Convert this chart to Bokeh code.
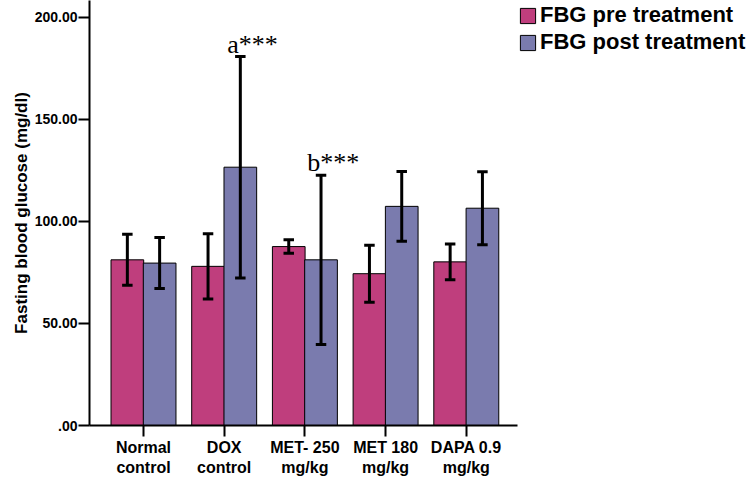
from bokeh.plotting import figure
from bokeh.models import ColumnDataSource, FixedTicker, Legend, LegendItem, Range1d
from bokeh.core.properties import value
from bokeh.embed import file_html
from bokeh.resources import INLINE

# ---- data ----
categories = ["Normal\ncontrol", "DOX\ncontrol", "MET- 250\nmg/kg", "MET 180\nmg/kg", "DAPA 0.9\nmg/kg"]
pre_mean = [81.2, 78.0, 87.7, 74.4, 80.2]
pre_sd = [12.5, 16.0, 3.3, 14.0, 8.8]
post_mean = [79.6, 126.6, 81.2, 107.4, 106.5]
post_sd = [12.5, 54.3, 41.5, 17.1, 17.9]
series_names = ["FBG pre treatment", "FBG post treatment"]
annotations = ["", "a***", "b***", "", ""]
y_ticks = [0, 50, 100, 150, 200]
y_tick_labels = [".00", "50.00", "100.00", "150.00", "200.00"]

PINK = "#BF3E7D"
BLUE = "#7A7BAE"
FONT = "Liberation Sans"

pos = list(range(1, len(categories) + 1))
off = 0.2
bw = 0.405
cap = 0.065

pre_x = [p_ - off for p_ in pos]
post_x = [p_ + off for p_ in pos]

pre_src = ColumnDataSource(dict(
    x=pre_x, top=pre_mean,
    lo=[m - s for m, s in zip(pre_mean, pre_sd)],
    hi=[m + s for m, s in zip(pre_mean, pre_sd)],
    x0=[x - cap for x in pre_x], x1=[x + cap for x in pre_x]))
post_src = ColumnDataSource(dict(
    x=post_x, top=post_mean,
    lo=[m - s for m, s in zip(post_mean, post_sd)],
    hi=[m + s for m, s in zip(post_mean, post_sd)],
    x0=[x - cap for x in post_x], x1=[x + cap for x in post_x]))

W, H = 749, 478
BL = 89
X0, XAX_END = 0.331, 5.632
px_per_x = 80.7
Y_TOP = 208.3
p = figure(width=W, height=H, output_backend="svg", toolbar_location=None,
           x_range=Range1d(X0, X0 + (W - BL) / px_per_x), y_range=Range1d(0, Y_TOP),
           min_border_left=BL, min_border_right=0, min_border_top=0, min_border_bottom=0)
p.outline_line_color = None
p.grid.visible = False
p.background_fill_color = "white"

r_pre = p.vbar(x="x", top="top", width=bw, source=pre_src, fill_color=PINK,
               line_color="black", line_width=1)
r_post = p.vbar(x="x", top="top", width=bw, source=post_src, fill_color=BLUE,
                line_color="black", line_width=1)

for src in (pre_src, post_src):
    p.segment(x0="x", y0="lo", x1="x", y1="hi", source=src, line_color="black", line_width=3)
    p.segment(x0="x0", y0="hi", x1="x1", y1="hi", source=src, line_color="black", line_width=3)
    p.segment(x0="x0", y0="lo", x1="x1", y1="lo", source=src, line_color="black", line_width=3)

# significance annotations above post-treatment error bars
ann_x, ann_y, ann_t = [], [], []
for i, t in enumerate(annotations):
    if t:
        ann_x.append(post_x[i] + 0.15)
        ann_y.append(post_mean[i] + post_sd[i] + 6)
        ann_t.append(t)
p.text(x=ann_x, y=ann_y, text=ann_t, text_font=value("Liberation Serif"),
       text_font_size="26px", text_align="center", text_baseline="alphabetic", text_color="black")

# y axis
yax = p.yaxis[0]
yax.ticker = FixedTicker(ticks=y_ticks)
yax.major_label_overrides = {t: l for t, l in zip(y_ticks, y_tick_labels)}
yax.minor_tick_line_color = None
yax.major_tick_in = 0
yax.major_tick_out = 11
yax.major_tick_line_width = 2
yax.axis_line_width = 2
yax.major_label_standoff = 1
yax.major_label_text_font = FONT
yax.major_label_text_font_style = "bold"
yax.major_label_text_font_size = "14px"
yax.major_label_text_color = "black"
yax.axis_label = "Fasting blood glucose (mg/dl)"
yax.axis_label_text_font = FONT
yax.axis_label_text_font_style = "bold"
yax.axis_label_text_font_size = "17px"
yax.axis_label_standoff = 1
yax.axis_label_text_color = "black"

# x axis
xax = p.xaxis[0]
xax.bounds = (X0, XAX_END)
xax.ticker = FixedTicker(ticks=pos)
xax.major_label_overrides = {t: l for t, l in zip(pos, categories)}
xax.minor_tick_line_color = None
xax.major_tick_in = 0
xax.major_tick_out = 11
xax.major_tick_line_width = 2
xax.axis_line_width = 2
xax.major_label_standoff = 2
xax.major_label_text_font = FONT
xax.major_label_text_font_style = "bold"
xax.major_label_text_font_size = "16px"
xax.major_label_text_color = "black"

frame_h_est = 427
legend = Legend(items=[LegendItem(label=series_names[0], renderers=[r_pre]),
                       LegendItem(label=series_names[1], renderers=[r_post])],
                location=(518 - BL, frame_h_est - 57), orientation="vertical")
legend.margin = 0
legend.padding = 0
legend.border_line_color = None
legend.background_fill_alpha = 0
legend.glyph_width = 19
legend.glyph_height = 19
legend.label_standoff = 3
legend.spacing = 1
legend.label_text_font = FONT
legend.label_text_font_style = "bold"
legend.label_text_font_size = "22px"
legend.label_text_color = "black"
p.add_layout(legend)

open("out.html", "w").write(file_html(p, INLINE))
